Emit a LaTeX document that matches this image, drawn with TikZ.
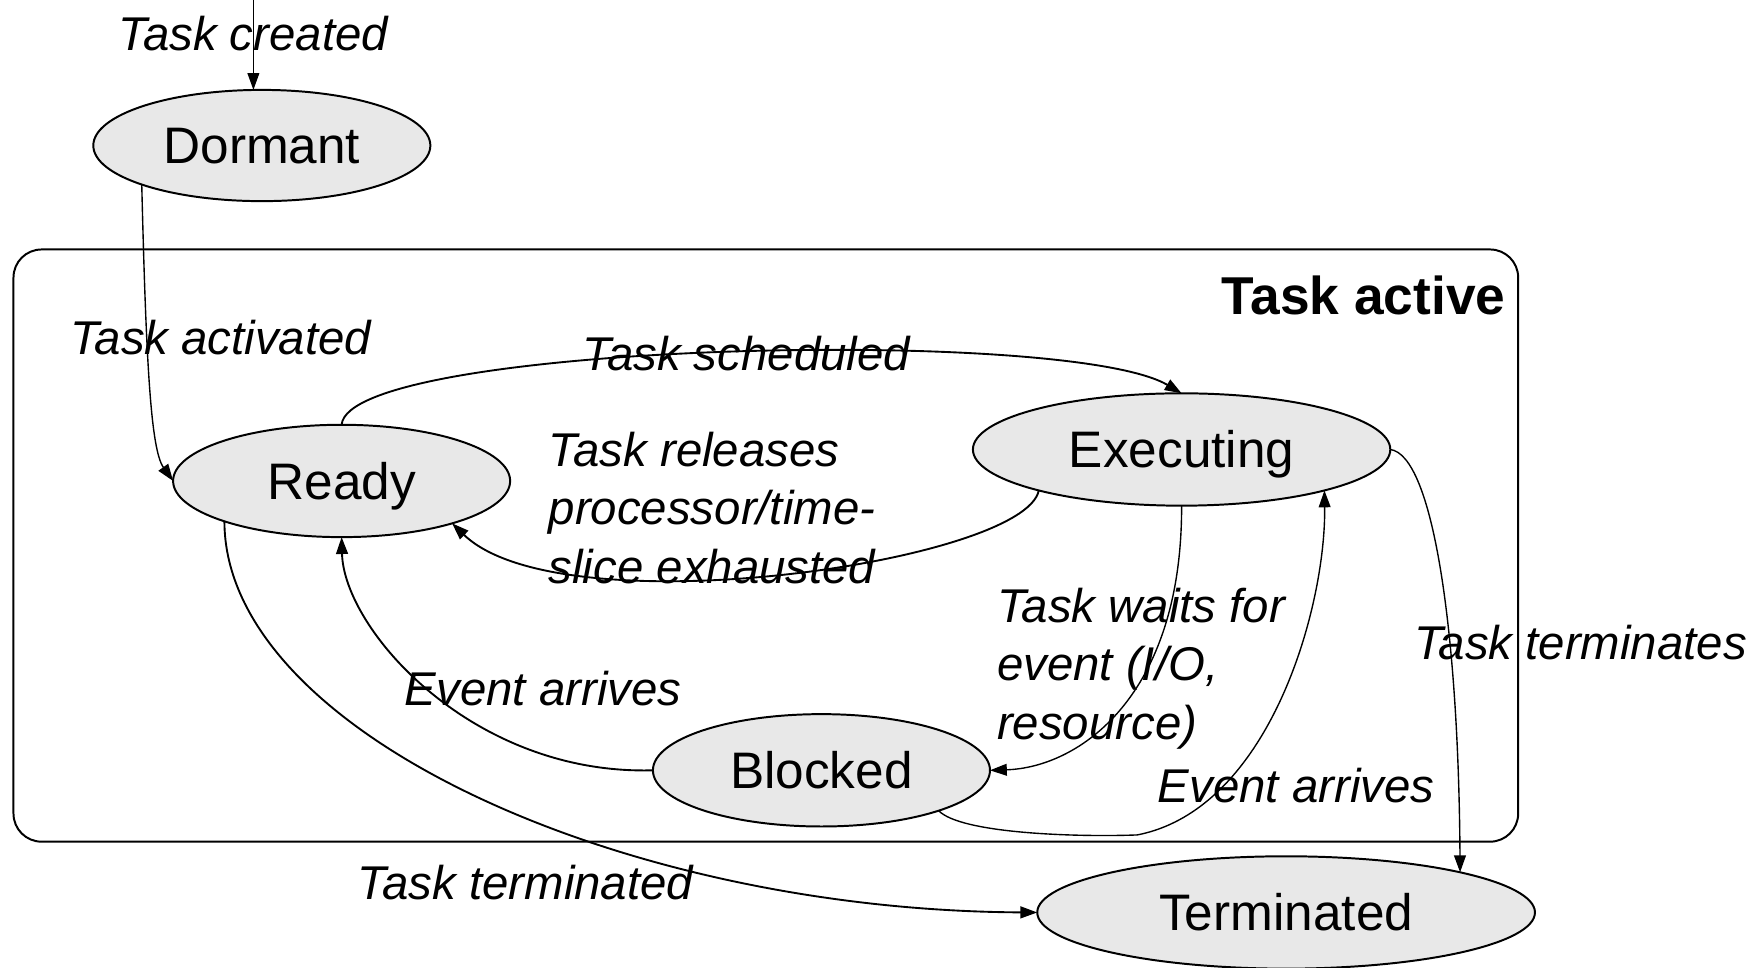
\documentclass[tikz,border=0pt]{standalone}
\usepackage{fontspec}
\setmainfont{Liberation Sans}
\usetikzlibrary{arrows.meta,shapes.geometric}
\begin{document}
\begin{tikzpicture}[x=0.02cm,y=-0.02cm,
 state/.style={ellipse,draw,line width=1pt,fill=black!9,inner sep=0pt,outer sep=0pt,minimum height=2cm,text height=18.6pt,text depth=0pt,font=\fontsize{26}{31}\selectfont},
 lbl/.style={inner sep=0pt,anchor=west,align=left,font=\fontsize{24}{29.5}\selectfont\itshape},
 arr/.style={-{Triangle[length=0.3cm,width=0.21cm]},line width=0.95pt},
 thinarr/.style={arr,line width=0.7pt}]
\useasboundingbox (0,0) rectangle (1568,861);
% container
\draw[line width=1pt, rounded corners=0.5cm] (12,222) rectangle (1351,749);
\node[anchor=east,inner sep=0pt,font=\fontsize{27}{32}\selectfont\bfseries] (activelbl) at (1340,263) {Task active};
% states
\node[state,minimum width=6cm,minimum height=1.98cm] (dormant) at (233,129.5) {Dormant};
\node[state,minimum width=6cm] (ready) at (304,428) {Ready};
\node[state,minimum width=7.43cm] (exec) at (1051.5,400) {Executing};
\node[state,minimum width=6cm] (blocked) at (731,685.5) {Blocked};
\node[state,minimum width=8.86cm] (term) at (1144.5,812) {Terminated};
\coordinate (tc) at (225.5,0);
\coordinate (bend) at (1012,743);
% edges
\draw[thinarr] (tc) -- (tc |- dormant.north);
\draw[thinarr] (dormant.198.5) .. controls (130,320) and (134,400) .. (ready.180);
\draw[arr] (ready.north) .. controls (310,305) and (950,290) .. (exec.north);
\draw[arr] (exec.196) .. controls (912,500) and (500,560) .. (ready.-21);
\draw[thinarr] (exec.south) .. controls (1052,620) and (960,683) .. (blocked.east);
\draw[thinarr] (blocked.-19) .. controls (855,742) and (960,745) .. (bend) .. controls (1130,720) and (1180,540) .. (exec.-16);
\draw[arr] (blocked.west) .. controls (420,690) and (306,560) .. (ready.south);
\draw[arr] (ready.199) .. controls (200,650) and (550,810) .. (term.west);
\draw[thinarr] (exec.east) .. controls (1275,405) and (1298,560) .. (term.13);
% labels
\node[lbl] at (105,30) {Task created};
\node[lbl] at (62,300) {Task activated};
\node[lbl] at (518,315) {Task scheduled};
\node[lbl] at (488,452) {Task releases\\processor/time-\\slice exhausted};
\node[lbl] at (887,595) {Task waits for\\event (I/O,\\resource)};
\node[lbl] at (1258,572) {Task terminates};
\node[lbl] at (360,613) {Event arrives};
\node[lbl] at (1030,699) {Event arrives};
\node[lbl] at (318,785) {Task terminated};
\end{tikzpicture}
\end{document}
